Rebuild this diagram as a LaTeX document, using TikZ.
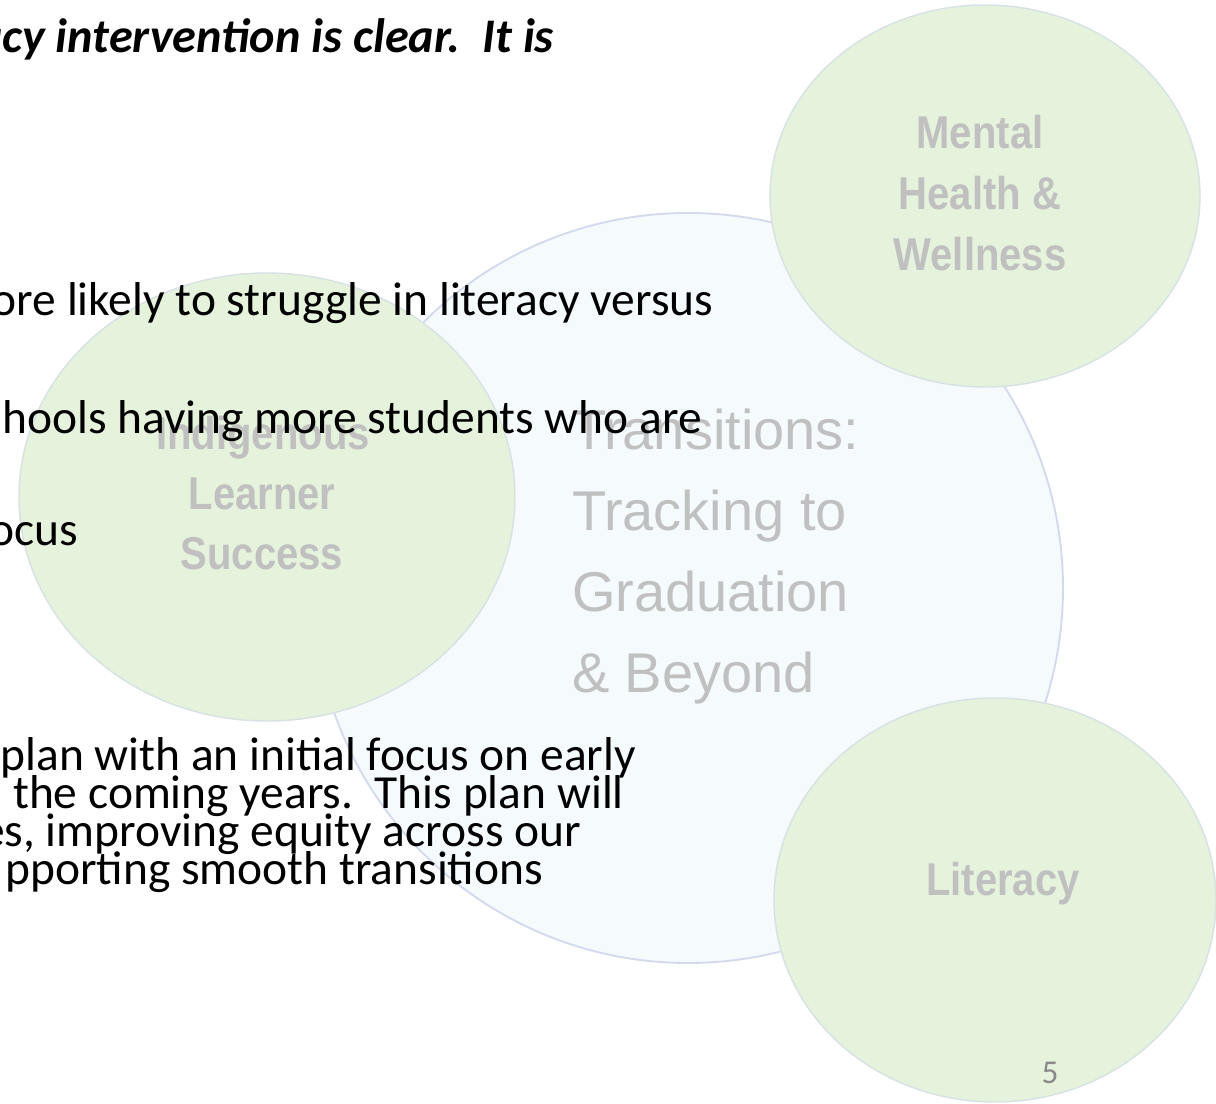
\documentclass[tikz,border=0pt]{standalone}
\usepackage{fontspec}
\setmainfont{Carlito}
\newfontfamily\arialf{Liberation Sans}
\usetikzlibrary{shapes.geometric}
\definecolor{greenfill}{RGB}{229,242,220}
\definecolor{greenedge}{RGB}{216,226,228}
\definecolor{bluefill}{RGB}{245,250,253}
\definecolor{blueedge}{RGB}{212,218,238}
\definecolor{labelgrey}{RGB}{192,192,192}
\definecolor{numgrey}{RGB}{137,137,137}
\begin{document}
\begin{tikzpicture}[x=0.75pt,y=-0.75pt,
  bodytext/.style={inner sep=0pt,outer sep=0pt,text=black,font=\fontsize{35.6}{35.6}\selectfont},
  titletext/.style={inner sep=0pt,outer sep=0pt,text=black,font=\fontsize{36.2}{36.2}\selectfont\bfseries\itshape},
  biglabel/.style={inner sep=0pt,outer sep=0pt,text=labelgrey,font=\arialf\fontsize{42}{42}\selectfont},
  smalllabel/.style={inner sep=0pt,outer sep=0pt,text=labelgrey,font=\arialf\bfseries\fontsize{34.5}{34.5}\selectfont},
  greenblob/.style={ellipse,fill=greenfill,draw=greenedge,line width=1.1pt,inner sep=0pt,outer sep=0pt},
  blueblob/.style={circle,fill=bluefill,draw=blueedge,line width=1.4pt,inner sep=0pt,outer sep=0pt}
]
\useasboundingbox (0,0) rectangle (1216,1103);
\fill[white] (0,0) rectangle (1216,1103);
\begin{scope}
\clip (0,0) rectangle (1216,1103);
% circles
\node[blueblob,minimum size=562.5pt] (trans) at (688,588) {};
\node[greenblob,minimum width=322.5pt,minimum height=286.5pt] (mental) at (985,196) {};
\node[greenblob,minimum width=331.5pt,minimum height=303pt] (lit) at (995,900) {};
\node[greenblob,minimum width=372pt,minimum height=336pt] (indig) at (267,497) {};
% grey labels
\node[biglabel,anchor=base west] (t1) at (572,449) {Transitions:};
\node[biglabel,anchor=base west] (t2) at (572,530) {Tracking to};
\node[biglabel,anchor=base west] (t3) at (572,611) {Graduation};
\node[biglabel,anchor=base west] (t4) at (572,692) {\&~Beyond};
\node[smalllabel,anchor=base] (m1) at (980,148) {\scalebox{0.87}[1]{Mental}};
\node[smalllabel,anchor=base] (m2) at (980,209) {\scalebox{0.87}[1]{Health \&}};
\node[smalllabel,anchor=base] (m3) at (980,270) {\scalebox{0.87}[1]{Wellness}};
\node[smalllabel,anchor=base] (i1) at (263,449) {\scalebox{0.87}[1]{Indigenous}};
\node[smalllabel,anchor=base] (i2) at (262,509) {\scalebox{0.87}[1]{Learner}};
\node[smalllabel,anchor=base] (i3) at (262,569) {\scalebox{0.87}[1]{Success}};
\node[smalllabel,anchor=base] (l1) at (1003,895) {\scalebox{0.87}[1]{Literacy}};
% black text
\node[titletext,anchor=base east] (h1) at (554,52) {acy intervention is clear.\ \ It is};
\node[bodytext,anchor=base east] (b1) at (713,315) {ore likely to struggle in literacy versus};
\node[bodytext,anchor=base east] (b2) at (702,433) {hools having more students who are};
\node[bodytext,anchor=base east] (b3) at (78,545) {ocus};
\node[bodytext,anchor=base east] (p1) at (636,770) {plan with an initial focus on early};
\node[bodytext,anchor=base east] (p2) at (624,808) {the coming years.\ \ This plan will};
\node[bodytext,anchor=base east] (p3) at (581,846) {es, improving equity across our};
\node[bodytext,anchor=base east] (p4) at (543,884) {pporting smooth transitions};
\node[inner sep=0pt,text=numgrey,font=\fontsize{25}{25}\selectfont,anchor=base] (num) at (1050,1083) {5};
\end{scope}
\end{tikzpicture}
\end{document}
